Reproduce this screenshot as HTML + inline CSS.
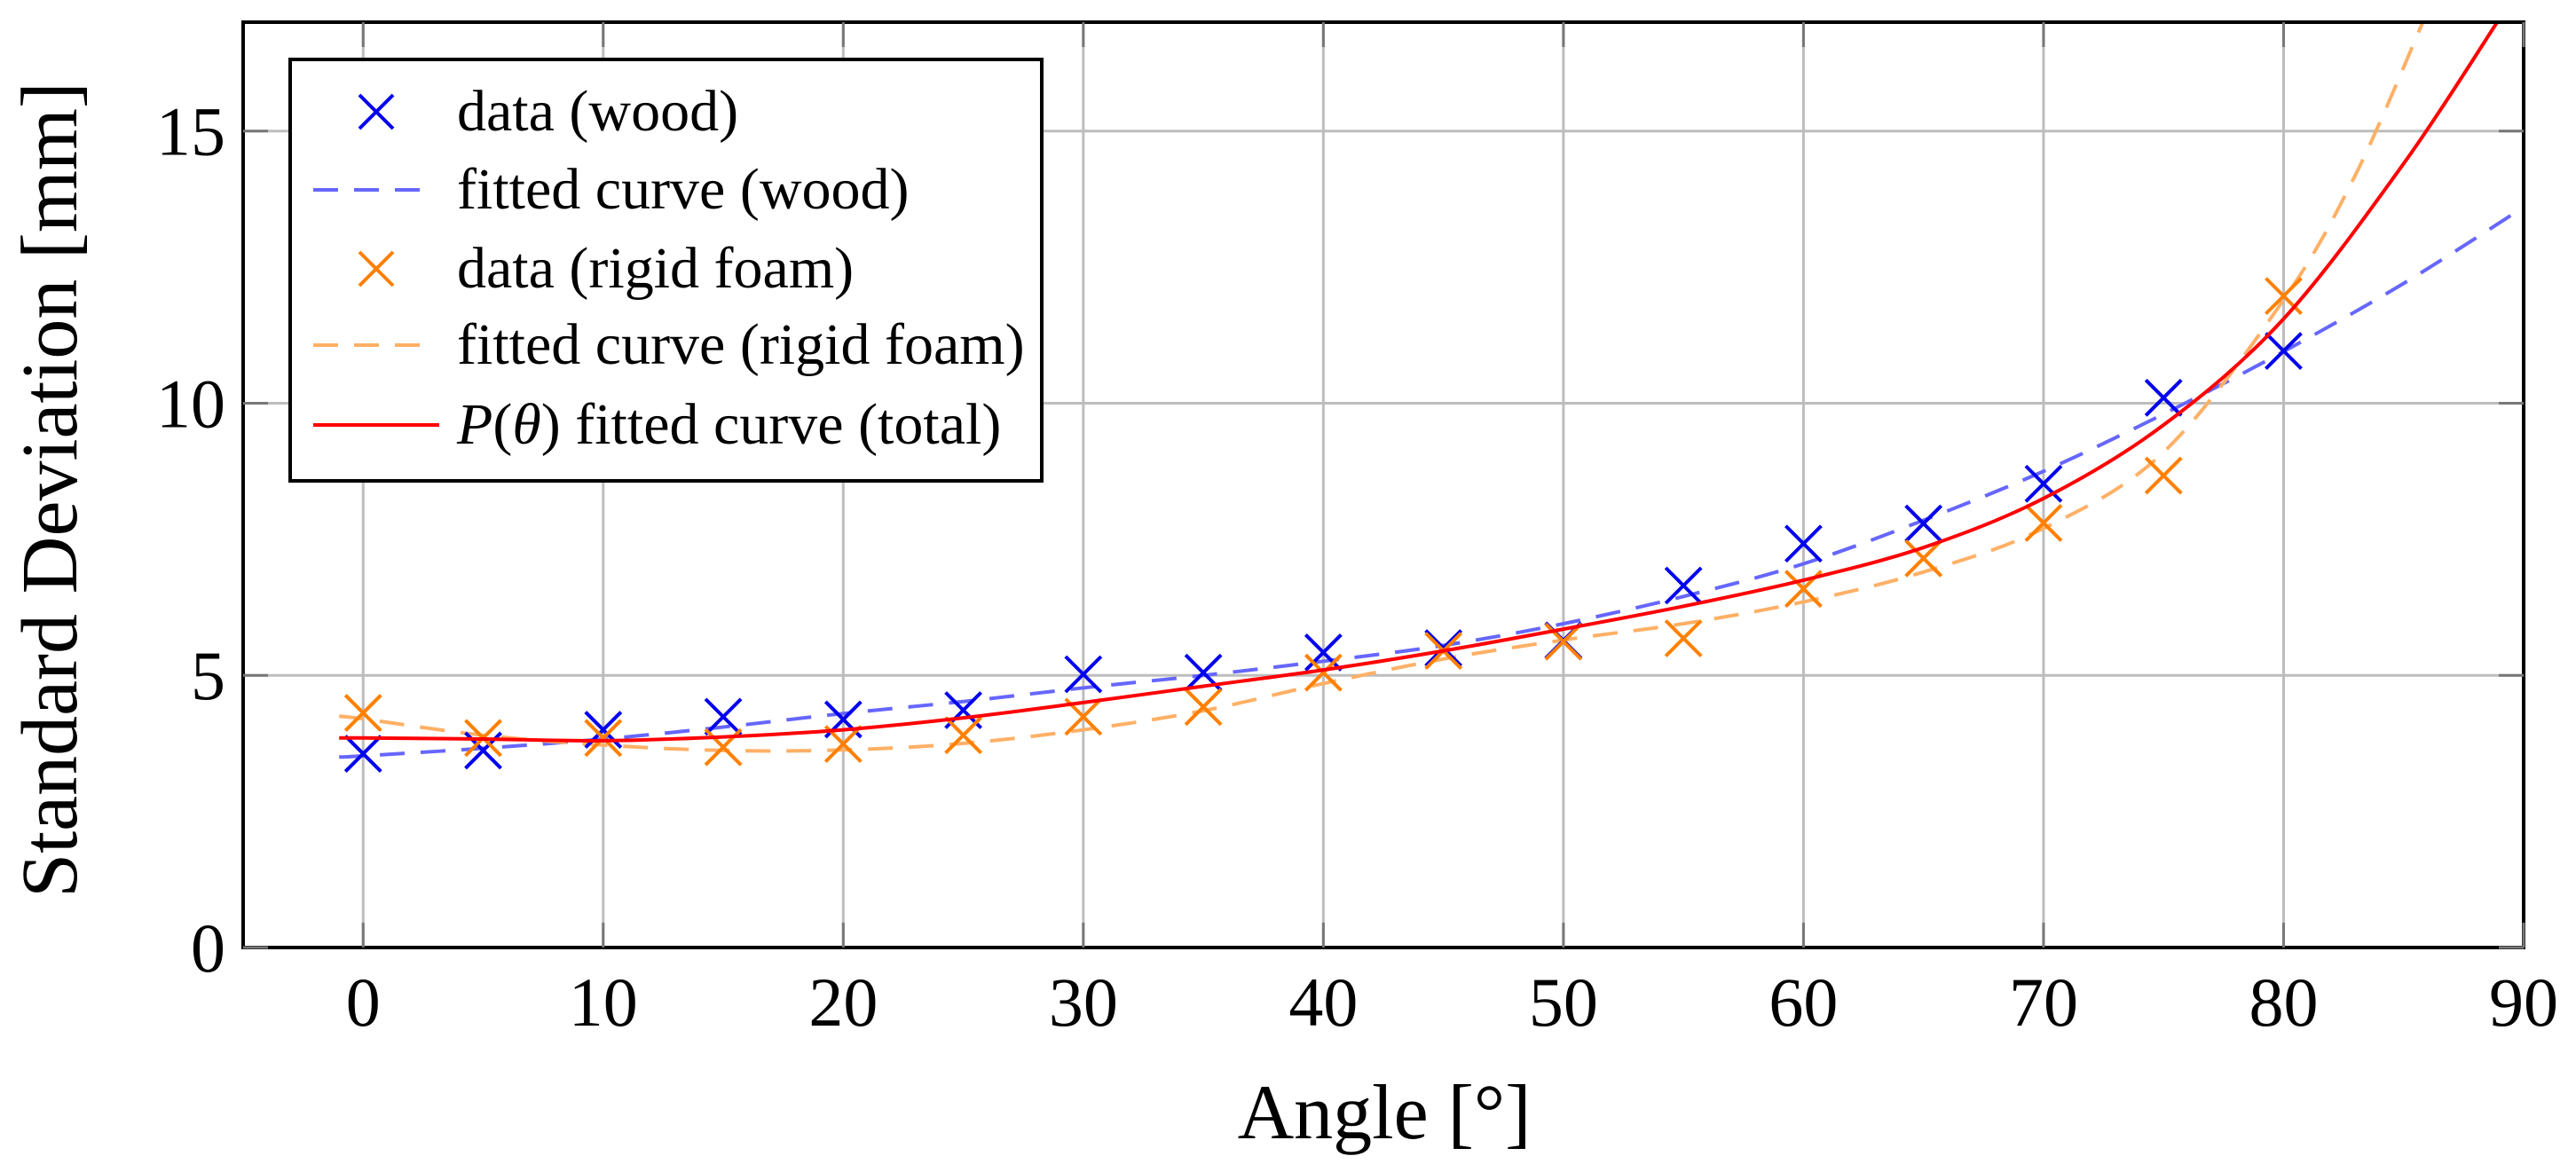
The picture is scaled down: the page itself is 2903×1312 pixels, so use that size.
<!DOCTYPE html>
<html><head><meta charset="utf-8"><style>
html,body{margin:0;padding:0;background:#fff;}
svg{display:block;font-family:"Liberation Serif","DejaVu Serif",serif;}
</style></head><body>
<svg id="chart" width="2903" height="1312" viewBox="0 0 2903 1312">
<g id="grid"></g>
<g id="series"></g>
<rect x="274" y="25" width="2570" height="1043" fill="none" stroke="#000" stroke-width="4"/>
<g id="ticks"></g>
<text x="1560" y="1283" font-size="88" text-anchor="middle">Angle [°]</text>
<text transform="translate(86,552) rotate(-90)" font-size="90" text-anchor="middle">Standard Deviation [mm]</text>
<g>
<rect x="327" y="67" width="847" height="475" fill="#fff" stroke="#000" stroke-width="4"/>
<g>
<path d="M405,107 L443,145 M443,107 L405,145" stroke="#0000ee" stroke-width="4"/>
<text x="515" y="147" font-size="66">data (wood)</text></g>
<g>
<line x1="353" y1="214" x2="479" y2="214" stroke="#6666ff" stroke-width="4" stroke-dasharray="28,18"/>
<text x="515" y="235" font-size="66">fitted curve (wood)</text></g>
<g>
<path d="M405,284 L443,322 M443,284 L405,322" stroke="#ff8000" stroke-width="4"/>
<text x="515" y="324" font-size="66">data (rigid foam)</text></g>
<g>
<line x1="353" y1="389" x2="479" y2="389" stroke="#ffb066" stroke-width="4" stroke-dasharray="28,18"/>
<text x="515" y="410" font-size="66">fitted curve (rigid foam)</text></g>
<g>
<line x1="353" y1="479" x2="495" y2="479" stroke="#ff0000" stroke-width="4"/>
<text x="515" y="500" font-size="66"><tspan font-style="italic">P</tspan>(<tspan font-style="italic">θ</tspan>) fitted curve (total)</text></g>
</g>
</svg>
<script>
const angles = [0,5,10,15,20,25,30,35,40,45,50,55,60,65,70,75,80];
const woodData = [3.56,3.62,4.0,4.24,4.19,4.36,5.02,5.05,5.42,5.5,5.64,6.65,7.42,7.79,8.52,10.1,10.96];
const foamData = [4.31,3.85,3.85,3.68,3.74,3.9,4.24,4.42,5.05,5.45,5.62,5.68,6.59,7.15,7.8,8.67,11.97];
const woodFitX = [-1,0,5,10,15,20,25,30,35,40,45,50,55,60,65,70,75,80,85,90];
const woodFitY = [3.5,3.52,3.66,3.83,4.05,4.3,4.52,4.77,5.0,5.26,5.55,5.95,6.45,7.05,7.85,8.75,9.8,10.95,12.2,13.6];
const foamFitX = [-1,0,5,10,15,20,25,30,35,40,45,50,55,60,65,70,75,80,83,85.8];
const foamFitY = [4.25,4.2,3.9,3.72,3.62,3.63,3.75,4.0,4.35,4.85,5.3,5.65,5.95,6.35,6.9,7.7,9.1,11.9,14.2,17];
const totalFitX = [-1,0,5,10,15,20,25,30,35,40,45,50,55,60,65,70,75,80,85,88.9];
const totalFitY = [3.85,3.85,3.83,3.8,3.87,4.0,4.22,4.5,4.8,5.1,5.45,5.85,6.27,6.75,7.35,8.25,9.6,11.55,14.4,17];
const xTicks = [0,10,20,30,40,50,60,70,80,90];
const yTicks = [0,5,10,15];

const NS="http://www.w3.org/2000/svg";
const X0=274,X1=2844,Y0=1068,Y1=25, xmin=-5,xmax=90,ymin=0,ymax=17;
function sx(v){return X0+(v-xmin)/(xmax-xmin)*(X1-X0);}
function sy(v){return Y0-(v-ymin)/(ymax-ymin)*(Y0-Y1);}
function mk(tag,attrs,parent){const e=document.createElementNS(NS,tag);for(const k in attrs)e.setAttribute(k,attrs[k]);parent.appendChild(e);return e;}
const grid=document.getElementById('grid'),ticks=document.getElementById('ticks'),ser=document.getElementById('series');
xTicks.forEach(t=>{
  const l=mk('line',{x1:sx(t),x2:sx(t),y1:Y1,y2:Y0,stroke:'#bdbdbd','stroke-width':3},grid);
  
  
  mk('line',{x1:sx(t),x2:sx(t),y1:Y0,y2:Y0-28,stroke:'#777','stroke-width':3},ticks);
  mk('line',{x1:sx(t),x2:sx(t),y1:Y1,y2:Y1+28,stroke:'#777','stroke-width':3},ticks);
  const tx=mk('text',{x:sx(t),y:Y0+88,'font-size':78,'text-anchor':'middle'},ticks);
  tx.textContent=t;
  
  
});
yTicks.forEach(t=>{
  const l=mk('line',{x1:X0,x2:X1,y1:sy(t),y2:sy(t),stroke:'#bdbdbd','stroke-width':3},grid);
  
  
  mk('line',{x1:X0,x2:X0+28,y1:sy(t),y2:sy(t),stroke:'#777','stroke-width':3},ticks);
  mk('line',{x1:X1,x2:X1-28,y1:sy(t),y2:sy(t),stroke:'#777','stroke-width':3},ticks);
  const tx=mk('text',{x:254,y:sy(t)+27,'font-size':78,'text-anchor':'end'},ticks);
  tx.textContent=t;
  
  
});
const clip=mk('clipPath',{id:'pc'},mk('defs',{},document.getElementById('chart')));
mk('rect',{x:X0,y:Y1,width:X1-X0,height:Y0-Y1},clip);
function curve(xs,ys,color,dash,name){
  const P=xs.map((x,i)=>[sx(x),sy(ys[i])]);
  let d='M'+P[0][0].toFixed(1)+','+P[0][1].toFixed(1);
  for(let i=0;i<P.length-1;i++){
    const p0=P[Math.max(0,i-1)],p1=P[i],p2=P[i+1],p3=P[Math.min(P.length-1,i+2)];
    const c1=[p1[0]+(p2[0]-p0[0])/6,p1[1]+(p2[1]-p0[1])/6];
    const c2=[p2[0]-(p3[0]-p1[0])/6,p2[1]-(p3[1]-p1[1])/6];
    d+=` C${c1[0].toFixed(1)},${c1[1].toFixed(1)} ${c2[0].toFixed(1)},${c2[1].toFixed(1)} ${p2[0].toFixed(1)},${p2[1].toFixed(1)}`;
  }
  const p=mk('path',{d:d,fill:'none',stroke:color,'stroke-width':4,'clip-path':'url(#pc)'},ser);
  if(dash)p.setAttribute('stroke-dasharray',dash);
  
  
}
function marks(xs,ys,color,name){
  xs.forEach((x,i)=>{
    const cx=sx(x),cy=sy(ys[i]),r=20;
    const p=mk('path',{d:`M${cx-r},${cy-r} L${cx+r},${cy+r} M${cx+r},${cy-r} L${cx-r},${cy+r}`,stroke:color,'stroke-width':4},ser);
    
    
  });
}
curve(woodFitX,woodFitY,'#6666ff','28,18','wood-fitted-curve');
curve(foamFitX,foamFitY,'#ffb066','28,18','foam-fitted-curve');
marks(angles,woodData,'#0000ee','wood-data-point');
marks(angles,foamData,'#ff8000','foam-data-point');
curve(totalFitX,totalFitY,'#ff0000',null,'total-fitted-curve');
</script>
</body></html>
